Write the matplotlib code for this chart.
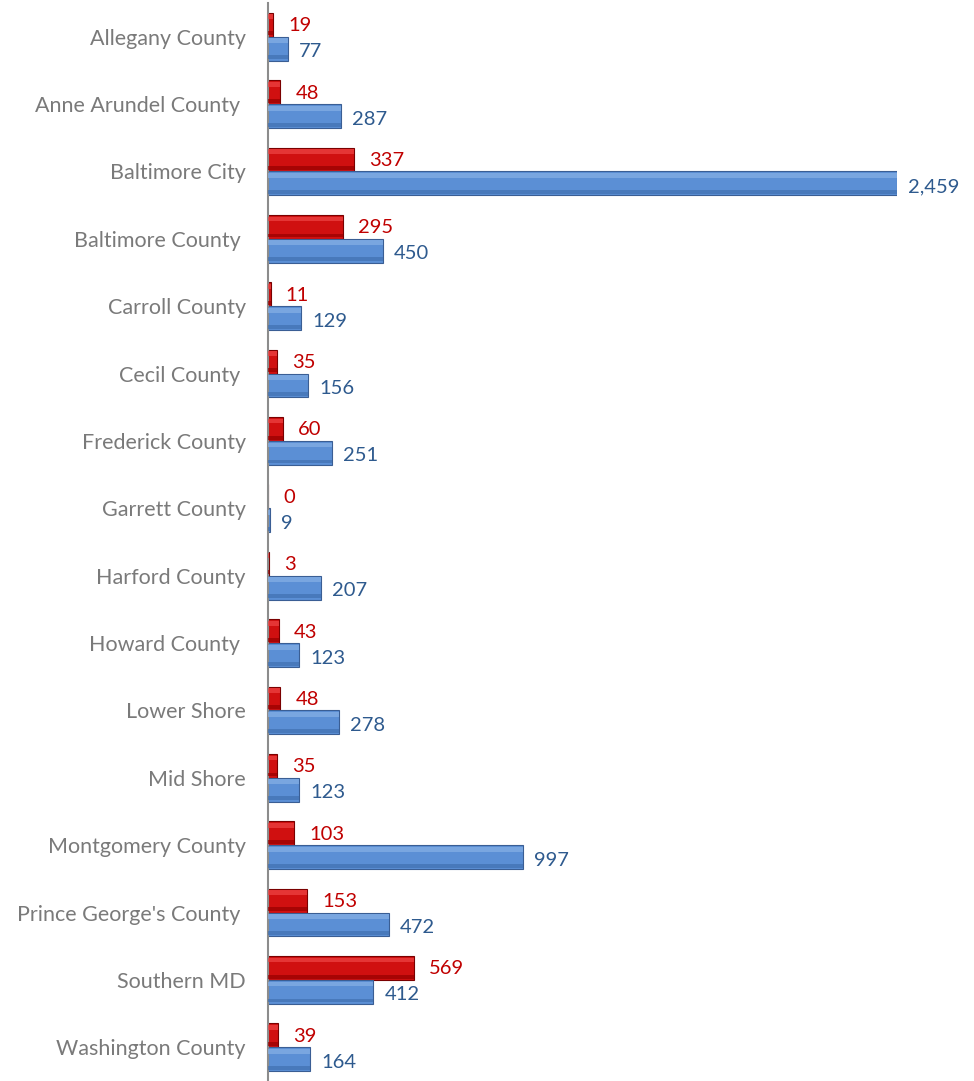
import matplotlib
matplotlib.use('Agg')
import matplotlib.pyplot as plt
import numpy as np

counties = ['Allegany County', 'Anne Arundel County ', 'Baltimore City', 'Baltimore County ',
            'Carroll County', 'Cecil County ', 'Frederick County', 'Garrett County',
            'Harford County', 'Howard County ', 'Lower Shore', 'Mid Shore',
            'Montgomery County', "Prince George's County ", 'Southern MD', 'Washington County']
red_vals = [19, 48, 337, 295, 11, 35, 60, 0, 3, 43, 48, 35, 103, 153, 569, 39]
blue_vals = [77, 287, 2459, 450, 129, 156, 251, 9, 207, 123, 278, 123, 997, 472, 412, 164]

plt.rcParams['font.family'] = ['Lato', 'DejaVu Sans']

fig = plt.figure(figsize=(9.74, 10.81), dpi=100)
ax = fig.add_axes([268 / 974, 0.0, (897 - 268) / 974, 1 - 3 / 1081])

y = np.arange(len(counties))
h = 0.355


def bevel_bars(ypos, vals, face, light, dark, edge):
    ax.barh(ypos, vals, height=h, color=face, edgecolor=edge, linewidth=0.8, zorder=2)
    # softer light band on top and shade band below to fake the bevel
    ax.barh(ypos - h * 0.33, vals, height=h * 0.2, color=light, linewidth=0,
            alpha=0.7, zorder=3)
    ax.barh(ypos + h * 0.36, vals, height=h * 0.16, color=dark, linewidth=0,
            alpha=0.7, zorder=3)


# red on top, blue below (y axis inverted)
bevel_bars(y - h / 2, red_vals, '#D01010', '#EE4545', '#960000', '#7A0000')
bevel_bars(y + h / 2, blue_vals, '#5B8FD5', '#86B0E6', '#4170B0', '#3A5E94')

for i in range(len(counties)):
    ax.annotate(f'{red_vals[i]:,}', (red_vals[i], y[i] - h / 2), xytext=(15, -1),
                textcoords='offset pixels', va='center', ha='left',
                color='#C00000', fontsize=14.5)
    ax.annotate(f'{blue_vals[i]:,}', (blue_vals[i], y[i] + h / 2), xytext=(11, -3),
                textcoords='offset pixels', va='center', ha='left',
                color='#2E5A8E', fontsize=14.5)

ax.set_yticks(y)
ax.set_yticklabels(counties, fontsize=15.5, color='#7A7A7A')
ax.tick_params(axis='y', length=0, pad=16)
ax.set_xticks([])
ax.set_xlim(0, 2459)
ax.set_ylim(len(counties) - 0.5, -0.5)

for s in ['top', 'right', 'bottom']:
    ax.spines[s].set_visible(False)
ax.spines['left'].set_color('#8C8C8C')
ax.spines['left'].set_linewidth(1.5)

fig.savefig('out.png', dpi=100)
